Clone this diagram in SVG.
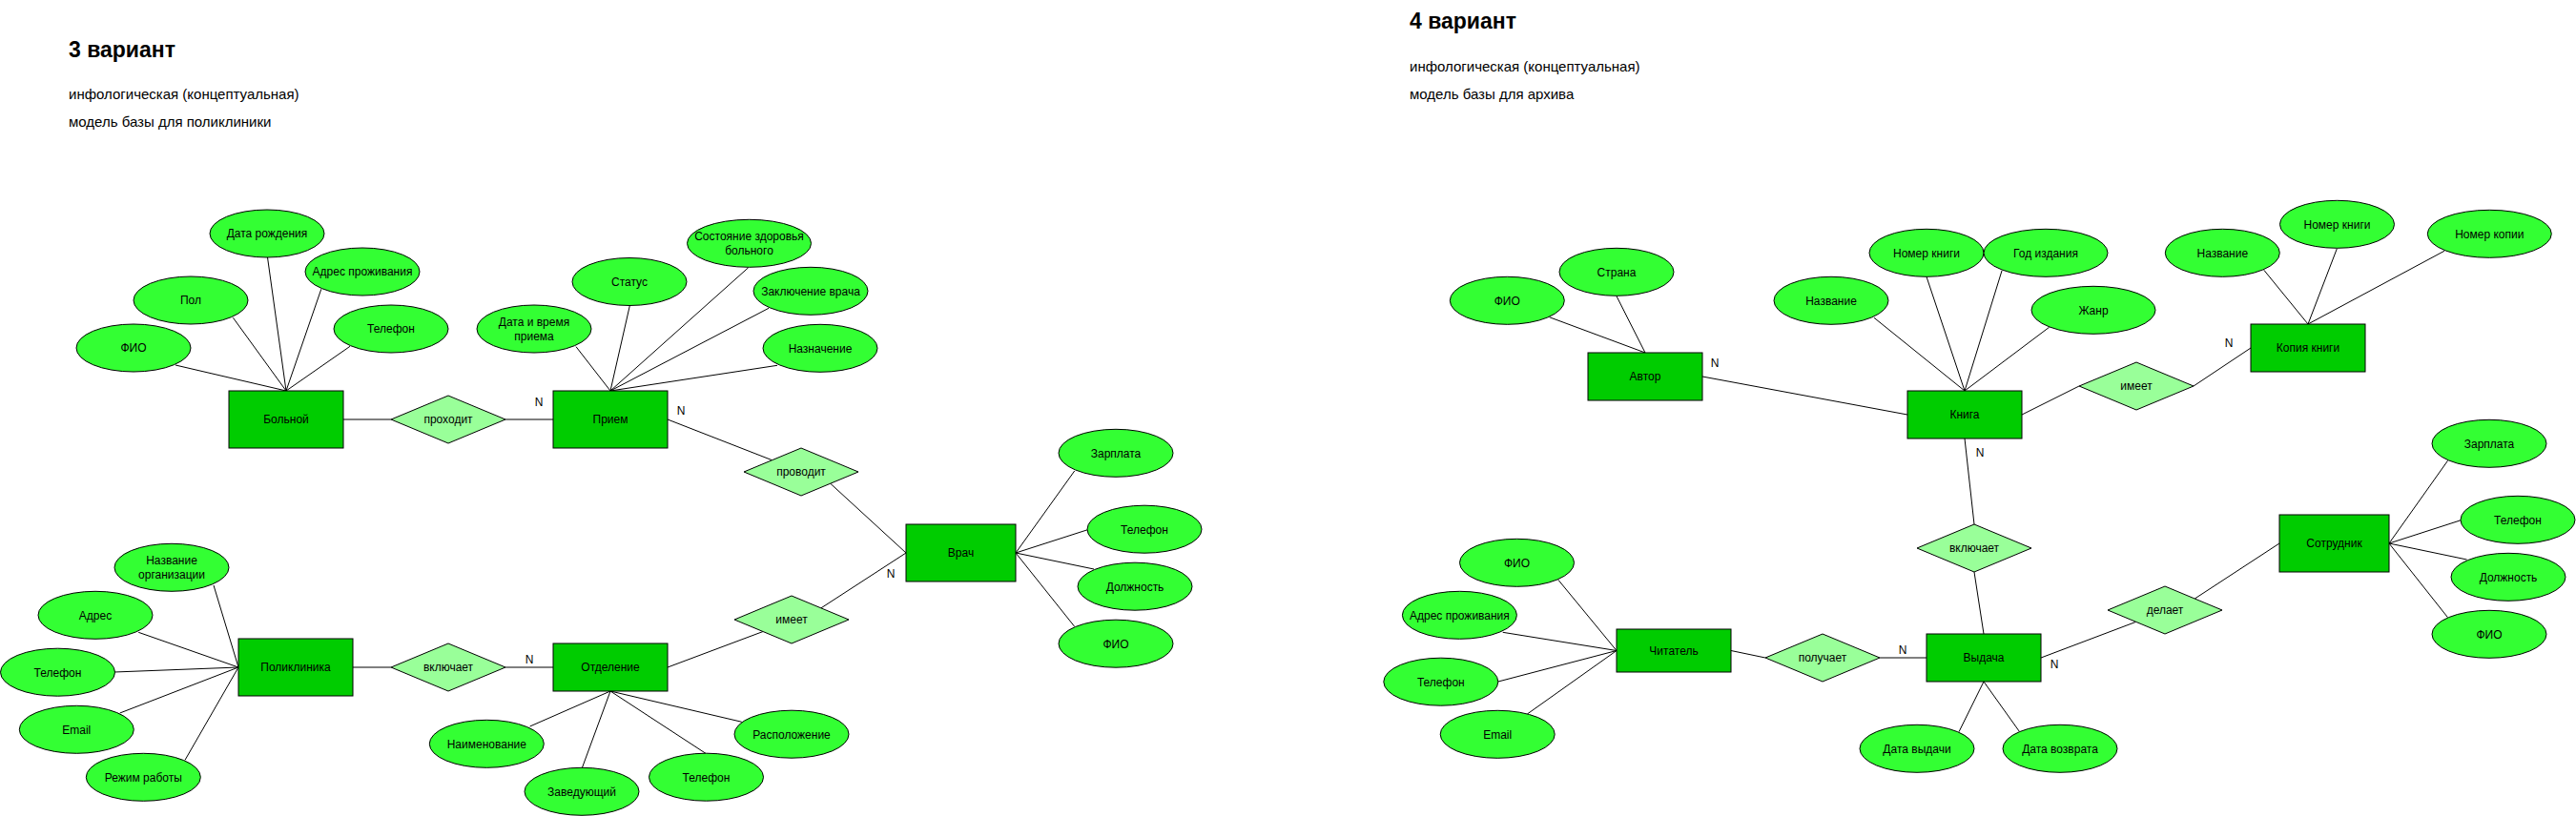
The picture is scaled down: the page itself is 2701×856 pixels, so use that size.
<svg xmlns="http://www.w3.org/2000/svg" width="2701" height="856" viewBox="0 0 2701 856">
<style>
text{font-family:"Liberation Sans",Arial,Helvetica,sans-serif;fill:#000}
.title{font-size:23px;font-weight:bold}
.sub{font-size:15px}
.lbl{font-size:12px;text-anchor:middle}
.n{font-size:12px;text-anchor:middle}
.attr{fill:#33FF33;stroke:#000;stroke-width:1}
.ent{fill:#00CC00;stroke:#000;stroke-width:1}
.rel{fill:#99FF99;stroke:#000;stroke-width:1}
#connectors line{stroke:#000;stroke-width:1;fill:none}
</style>
<rect width="2701" height="856" fill="#fff"/>
<g id="headers">
<text class="title" x="72" y="59.5">3 вариант</text>
<text class="sub" x="72" y="104">инфологическая (концептуальная)</text>
<text class="sub" x="72" y="133">модель базы для поликлиники</text>
<text class="title" x="1478" y="29.5">4 вариант</text>
<text class="sub" x="1478" y="74.5">инфологическая (концептуальная)</text>
<text class="sub" x="1478" y="103.5">модель базы для архива</text>
</g>
<g id="connectors">
<line x1="300" y1="410" x2="184" y2="383"/>
<line x1="300" y1="410" x2="244.4" y2="333.3"/>
<line x1="300" y1="410" x2="280.5" y2="270"/>
<line x1="300" y1="410" x2="336.8" y2="303.3"/>
<line x1="300" y1="410" x2="367" y2="363.3"/>
<line x1="360" y1="440" x2="410" y2="440"/>
<line x1="530" y1="440" x2="580" y2="440"/>
<line x1="640" y1="410" x2="604" y2="363.7"/>
<line x1="640" y1="410" x2="660.3" y2="320.7"/>
<line x1="640" y1="410" x2="784.7" y2="280.7"/>
<line x1="640" y1="410" x2="806" y2="323.3"/>
<line x1="640" y1="410" x2="815" y2="383.3"/>
<line x1="700" y1="440" x2="809" y2="482.5"/>
<line x1="871" y1="507.5" x2="950" y2="580"/>
<line x1="860.7" y1="638" x2="950" y2="580"/>
<line x1="700" y1="700" x2="800" y2="662.5"/>
<line x1="1065" y1="580" x2="1126.7" y2="494"/>
<line x1="1065" y1="580" x2="1140.5" y2="555.7"/>
<line x1="1065" y1="580" x2="1147" y2="597"/>
<line x1="1065" y1="580" x2="1126.7" y2="657.3"/>
<line x1="250" y1="700" x2="224" y2="614"/>
<line x1="250" y1="700" x2="145.2" y2="663.3"/>
<line x1="250" y1="700" x2="120" y2="705"/>
<line x1="250" y1="700" x2="125.7" y2="748"/>
<line x1="250" y1="700" x2="194" y2="797.3"/>
<line x1="370" y1="700" x2="410" y2="700"/>
<line x1="530" y1="700" x2="580" y2="700"/>
<line x1="640" y1="725" x2="555.6" y2="762"/>
<line x1="640" y1="725" x2="610.2" y2="806"/>
<line x1="640" y1="725" x2="740.5" y2="790.7"/>
<line x1="640" y1="725" x2="777.8" y2="757.3"/>
<line x1="1725" y1="370" x2="1624.5" y2="332.7"/>
<line x1="1725" y1="370" x2="1695" y2="310.7"/>
<line x1="1785" y1="395" x2="2000" y2="435"/>
<line x1="2060" y1="410" x2="1965" y2="333.3"/>
<line x1="2060" y1="410" x2="2020" y2="290.3"/>
<line x1="2060" y1="410" x2="2099" y2="284"/>
<line x1="2060" y1="410" x2="2148.6" y2="343.3"/>
<line x1="2120" y1="435" x2="2180" y2="405"/>
<line x1="2300" y1="405" x2="2360" y2="365"/>
<line x1="2420" y1="340" x2="2373.8" y2="283.3"/>
<line x1="2420" y1="340" x2="2450.4" y2="260.7"/>
<line x1="2420" y1="340" x2="2562.9" y2="263.3"/>
<line x1="2060" y1="460" x2="2070" y2="550"/>
<line x1="2070" y1="600" x2="2080" y2="665"/>
<line x1="1695" y1="682.5" x2="1633.9" y2="608.3"/>
<line x1="1695" y1="682.5" x2="1575.7" y2="663.3"/>
<line x1="1695" y1="682.5" x2="1570.9" y2="715"/>
<line x1="1695" y1="682.5" x2="1601.4" y2="749"/>
<line x1="1815" y1="682.5" x2="1851" y2="690"/>
<line x1="1971" y1="690" x2="2020" y2="690"/>
<line x1="2140" y1="690" x2="2239.2" y2="652.5"/>
<line x1="2301.3" y1="628" x2="2390" y2="570"/>
<line x1="2080" y1="715" x2="2054" y2="767.7"/>
<line x1="2080" y1="715" x2="2117.6" y2="767.7"/>
<line x1="2505" y1="570" x2="2566.5" y2="483.3"/>
<line x1="2505" y1="570" x2="2580.3" y2="545.7"/>
<line x1="2505" y1="570" x2="2586.6" y2="587"/>
<line x1="2505" y1="570" x2="2566.5" y2="647.7"/>
</g>
<g id="cardinalities">
<text class="n" x="565" y="426">N</text>
<text class="n" x="714" y="435">N</text>
<text class="n" x="934" y="606">N</text>
<text class="n" x="555" y="696">N</text>
<text class="n" x="1798" y="385">N</text>
<text class="n" x="2076" y="479">N</text>
<text class="n" x="2337" y="364">N</text>
<text class="n" x="1995" y="686">N</text>
<text class="n" x="2154" y="700.5">N</text>
</g>
<g id="v3-bolnoy"><rect class="ent" x="240" y="410" width="120" height="60"/><text class="lbl" x="300" y="444.3">Больной</text></g>
<g id="v3-bolnoy-fio"><ellipse class="attr" cx="140" cy="365" rx="60" ry="25"/><text class="lbl" x="140" y="369.3">ФИО</text></g>
<g id="v3-bolnoy-pol"><ellipse class="attr" cx="200" cy="315" rx="60" ry="25"/><text class="lbl" x="200" y="319.3">Пол</text></g>
<g id="v3-bolnoy-dr"><ellipse class="attr" cx="280" cy="245" rx="60" ry="25"/><text class="lbl" x="280" y="249.3">Дата рождения</text></g>
<g id="v3-bolnoy-addr"><ellipse class="attr" cx="380" cy="285" rx="60" ry="25"/><text class="lbl" x="380" y="289.3">Адрес проживания</text></g>
<g id="v3-bolnoy-tel"><ellipse class="attr" cx="410" cy="345" rx="60" ry="25"/><text class="lbl" x="410" y="349.3">Телефон</text></g>
<g id="v3-prohodit"><polygon class="rel" points="410,440 470,415 530,440 470,465"/><text class="lbl" x="470" y="444.3">проходит</text></g>
<g id="v3-priem"><rect class="ent" x="580" y="410" width="120" height="60"/><text class="lbl" x="640" y="444.3">Прием</text></g>
<g id="v3-priem-date"><ellipse class="attr" cx="560" cy="345" rx="60" ry="25"/><text class="lbl" x="560" y="342">Дата и время</text><text class="lbl" x="560" y="357">приема</text></g>
<g id="v3-priem-status"><ellipse class="attr" cx="660" cy="295.5" rx="60" ry="25"/><text class="lbl" x="660" y="299.8">Статус</text></g>
<g id="v3-priem-state"><ellipse class="attr" cx="785.5" cy="255.3" rx="65" ry="25"/><text class="lbl" x="785.5" y="252">Состояние здоровья</text><text class="lbl" x="785.5" y="267">больного</text></g>
<g id="v3-priem-concl"><ellipse class="attr" cx="850" cy="305.3" rx="60" ry="25"/><text class="lbl" x="850" y="309.6">Заключение врача</text></g>
<g id="v3-priem-naz"><ellipse class="attr" cx="860" cy="365.3" rx="60" ry="25"/><text class="lbl" x="860" y="369.6">Назначение</text></g>
<g id="v3-provodit"><polygon class="rel" points="780,495 840,470 900,495 840,520"/><text class="lbl" x="840" y="499.3">проводит</text></g>
<g id="v3-vrach"><rect class="ent" x="950" y="550" width="115" height="60"/><text class="lbl" x="1007.5" y="584.3">Врач</text></g>
<g id="v3-vrach-zp"><ellipse class="attr" cx="1170" cy="475.3" rx="60" ry="25"/><text class="lbl" x="1170" y="479.6">Зарплата</text></g>
<g id="v3-vrach-tel"><ellipse class="attr" cx="1200" cy="555.2" rx="60" ry="25"/><text class="lbl" x="1200" y="559.5">Телефон</text></g>
<g id="v3-vrach-dolzh"><ellipse class="attr" cx="1190" cy="615.2" rx="60" ry="25"/><text class="lbl" x="1190" y="619.5">Должность</text></g>
<g id="v3-vrach-fio"><ellipse class="attr" cx="1170" cy="675.2" rx="60" ry="25"/><text class="lbl" x="1170" y="679.5">ФИО</text></g>
<g id="v3-imeet"><polygon class="rel" points="770,650 830,625 890,650 830,675"/><text class="lbl" x="830" y="654.3">имеет</text></g>
<g id="v3-poliklinika"><rect class="ent" x="250" y="670" width="120" height="60"/><text class="lbl" x="310" y="704.3">Поликлиника</text></g>
<g id="v3-pol-name"><ellipse class="attr" cx="180" cy="595.3" rx="60" ry="25"/><text class="lbl" x="180" y="592">Название</text><text class="lbl" x="180" y="607">организации</text></g>
<g id="v3-pol-addr"><ellipse class="attr" cx="100" cy="645.3" rx="60" ry="25"/><text class="lbl" x="100" y="649.6">Адрес</text></g>
<g id="v3-pol-tel"><ellipse class="attr" cx="60.5" cy="705.2" rx="60" ry="25"/><text class="lbl" x="60.5" y="709.5">Телефон</text></g>
<g id="v3-pol-email"><ellipse class="attr" cx="80.3" cy="765.3" rx="60" ry="25"/><text class="lbl" x="80.3" y="769.6">Email</text></g>
<g id="v3-pol-mode"><ellipse class="attr" cx="150.3" cy="815.3" rx="60" ry="25"/><text class="lbl" x="150.3" y="819.6">Режим работы</text></g>
<g id="v3-vkluchaet"><polygon class="rel" points="410,700 470,675 530,700 470,725"/><text class="lbl" x="470" y="704.3">включает</text></g>
<g id="v3-otdelenie"><rect class="ent" x="580" y="675" width="120" height="50"/><text class="lbl" x="640" y="704.3">Отделение</text></g>
<g id="v3-otd-name"><ellipse class="attr" cx="510.3" cy="780.3" rx="60" ry="25"/><text class="lbl" x="510.3" y="784.6">Наименование</text></g>
<g id="v3-otd-head"><ellipse class="attr" cx="610" cy="830.3" rx="60" ry="25"/><text class="lbl" x="610" y="834.6">Заведующий</text></g>
<g id="v3-otd-tel"><ellipse class="attr" cx="740.5" cy="815.2" rx="60" ry="25"/><text class="lbl" x="740.5" y="819.5">Телефон</text></g>
<g id="v3-otd-loc"><ellipse class="attr" cx="830" cy="770.2" rx="60" ry="25"/><text class="lbl" x="830" y="774.5">Расположение</text></g>
<g id="v4-avtor"><rect class="ent" x="1665" y="370" width="120" height="50"/><text class="lbl" x="1725" y="399.3">Автор</text></g>
<g id="v4-avtor-fio"><ellipse class="attr" cx="1580.3" cy="315.3" rx="60" ry="25"/><text class="lbl" x="1580.3" y="319.6">ФИО</text></g>
<g id="v4-avtor-country"><ellipse class="attr" cx="1695" cy="285.3" rx="60" ry="25"/><text class="lbl" x="1695" y="289.6">Страна</text></g>
<g id="v4-kniga"><rect class="ent" x="2000" y="410" width="120" height="50"/><text class="lbl" x="2060" y="439.3">Книга</text></g>
<g id="v4-kniga-name"><ellipse class="attr" cx="1920" cy="315.3" rx="60" ry="25"/><text class="lbl" x="1920" y="319.6">Название</text></g>
<g id="v4-kniga-num"><ellipse class="attr" cx="2020" cy="265.3" rx="60" ry="25"/><text class="lbl" x="2020" y="269.6">Номер книги</text></g>
<g id="v4-kniga-year"><ellipse class="attr" cx="2145" cy="265.3" rx="65" ry="25"/><text class="lbl" x="2145" y="269.6">Год издания</text></g>
<g id="v4-kniga-genre"><ellipse class="attr" cx="2195" cy="325.3" rx="65" ry="25"/><text class="lbl" x="2195" y="329.6">Жанр</text></g>
<g id="v4-imeet"><polygon class="rel" points="2180,405 2240,380 2300,405 2240,430"/><text class="lbl" x="2240" y="409.3">имеет</text></g>
<g id="v4-kopiya"><rect class="ent" x="2360" y="340" width="120" height="50"/><text class="lbl" x="2420" y="369.3">Копия книги</text></g>
<g id="v4-kopiya-name"><ellipse class="attr" cx="2330.3" cy="265.3" rx="60" ry="25"/><text class="lbl" x="2330.3" y="269.6">Название</text></g>
<g id="v4-kopiya-num"><ellipse class="attr" cx="2450.5" cy="235.3" rx="60" ry="25"/><text class="lbl" x="2450.5" y="239.6">Номер книги</text></g>
<g id="v4-kopiya-copy"><ellipse class="attr" cx="2610.3" cy="245.3" rx="65" ry="25"/><text class="lbl" x="2610.3" y="249.6">Номер копии</text></g>
<g id="v4-vkluchaet"><polygon class="rel" points="2010,575 2070,550 2130,575 2070,600"/><text class="lbl" x="2070" y="579.3">включает</text></g>
<g id="v4-chitatel"><rect class="ent" x="1695" y="660" width="120" height="45"/><text class="lbl" x="1755" y="686.8">Читатель</text></g>
<g id="v4-chit-fio"><ellipse class="attr" cx="1590.5" cy="590.3" rx="60" ry="25"/><text class="lbl" x="1590.5" y="594.6">ФИО</text></g>
<g id="v4-chit-addr"><ellipse class="attr" cx="1530.4" cy="645.3" rx="60" ry="25"/><text class="lbl" x="1530.4" y="649.6">Адрес проживания</text></g>
<g id="v4-chit-tel"><ellipse class="attr" cx="1510.8" cy="715.2" rx="60" ry="25"/><text class="lbl" x="1510.8" y="719.5">Телефон</text></g>
<g id="v4-chit-email"><ellipse class="attr" cx="1570.2" cy="770.3" rx="60" ry="25"/><text class="lbl" x="1570.2" y="774.6">Email</text></g>
<g id="v4-poluchaet"><polygon class="rel" points="1851,690 1911,665 1971,690 1911,715"/><text class="lbl" x="1911" y="694.3">получает</text></g>
<g id="v4-vydacha"><rect class="ent" x="2020" y="665" width="120" height="50"/><text class="lbl" x="2080" y="694.3">Выдача</text></g>
<g id="v4-vyd-date"><ellipse class="attr" cx="2010" cy="785.3" rx="60" ry="25"/><text class="lbl" x="2010" y="789.6">Дата выдачи</text></g>
<g id="v4-vyd-ret"><ellipse class="attr" cx="2160" cy="785.3" rx="60" ry="25"/><text class="lbl" x="2160" y="789.6">Дата возврата</text></g>
<g id="v4-delaet"><polygon class="rel" points="2210,640 2270,615 2330,640 2270,665"/><text class="lbl" x="2270" y="644.3">делает</text></g>
<g id="v4-sotrudnik"><rect class="ent" x="2390" y="540" width="115" height="60"/><text class="lbl" x="2447.5" y="574.3">Сотрудник</text></g>
<g id="v4-sotr-zp"><ellipse class="attr" cx="2610" cy="465.3" rx="60" ry="25"/><text class="lbl" x="2610" y="469.6">Зарплата</text></g>
<g id="v4-sotr-tel"><ellipse class="attr" cx="2640" cy="545.3" rx="60" ry="25"/><text class="lbl" x="2640" y="549.6">Телефон</text></g>
<g id="v4-sotr-dolzh"><ellipse class="attr" cx="2630" cy="605.3" rx="60" ry="25"/><text class="lbl" x="2630" y="609.6">Должность</text></g>
<g id="v4-sotr-fio"><ellipse class="attr" cx="2610" cy="665.3" rx="60" ry="25"/><text class="lbl" x="2610" y="669.6">ФИО</text></g>
</svg>
